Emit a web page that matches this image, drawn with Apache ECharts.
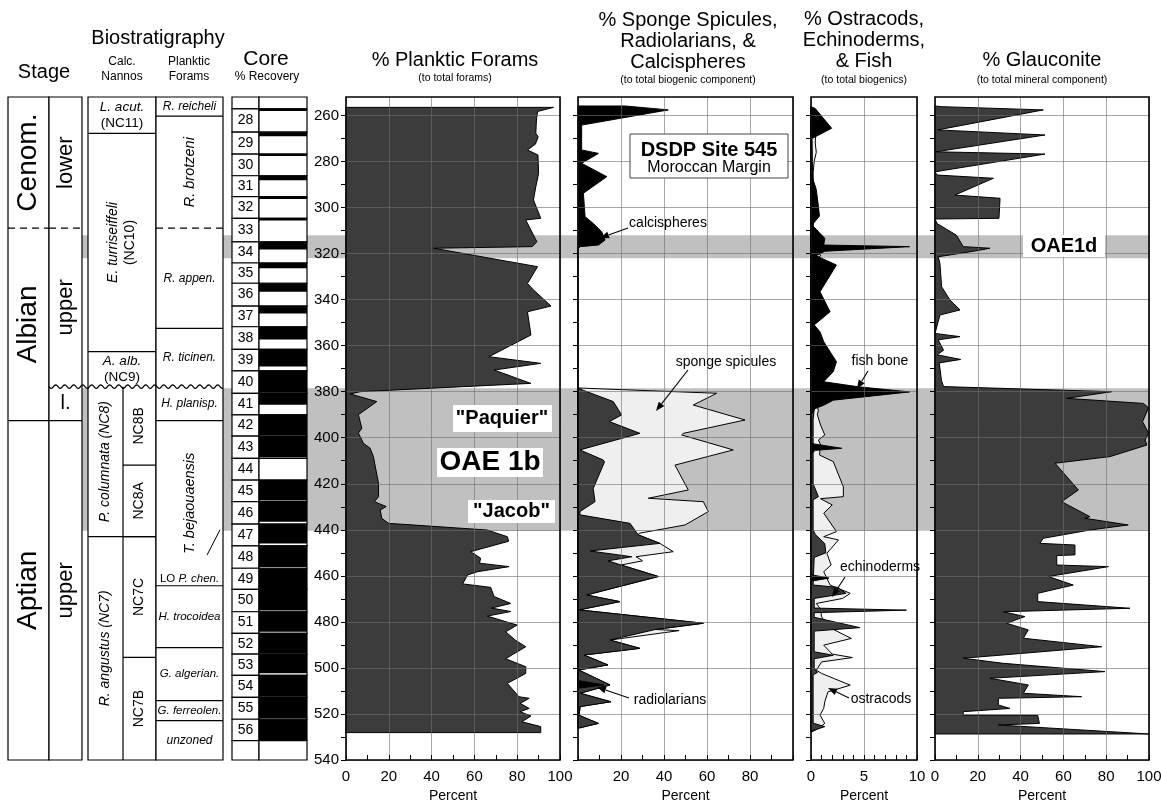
<!DOCTYPE html>
<html>
<head>
<meta charset="utf-8">
<title>DSDP Site 545</title>
<script src="https://cdn.jsdelivr.net/npm/echarts@6/dist/echarts.min.js"></script>
<style>
html, body { margin: 0; background: #fff; }
#chart { width: 1161px; height: 803px; }
</style>
</head>
<body>
<div id="chart"></div>
<script>
// ---------- data: depth in mbsf, values in percent ----------
var DEPTH_MIN = 252, DEPTH_MAX = 540;
var depthLabels = [260, 280, 300, 320, 340, 360, 380, 400, 420, 440, 460, 480, 500, 520, 540];
var depthTicks = [260, 270, 280, 290, 300, 310, 320, 330, 340, 350, 360, 370, 380, 390, 400,
    410, 420, 430, 440, 450, 460, 470, 480, 490, 500, 510, 520, 530, 540];

var oaeBands = [[312, 322], [378.5, 440.4]];

var stages = [
    {name: 'Cenom.', top: 252, bottom: 309},
    {name: 'Albian', top: 309, bottom: 392.6},
    {name: 'Aptian', top: 392.6, bottom: 540}
];
var substages = [
    {name: 'lower', top: 252, bottom: 309},
    {name: 'upper', top: 309, bottom: 377.8},
    {name: 'l.', top: 377.8, bottom: 392.6},
    {name: 'upper', top: 392.6, bottom: 540}
];
var nannoZones = [
    {name: 'L. acut.', code: '(NC11)', top: 252, bottom: 267.8},
    {name: 'E. turriseiffeli', code: '(NC10)', top: 267.8, bottom: 362.6},
    {name: 'A. alb.', code: '(NC9)', top: 362.6, bottom: 377.8},
    {name: 'P. columnata', code: '(NC8)', top: 377.8, bottom: 443},
    {name: 'R. angustus', code: '(NC7)', top: 443, bottom: 540}
];
var nannoSubZones = [
    {name: 'NC8B', top: 377.8, bottom: 411.9},
    {name: 'NC8A', top: 411.9, bottom: 443},
    {name: 'NC7C', top: 443, bottom: 495.4},
    {name: 'NC7B', top: 495.4, bottom: 540}
];
var foramZones = [
    {name: 'R. reicheli', top: 252, bottom: 260.3},
    {name: 'R. brotzeni', top: 260.3, bottom: 309},
    {name: 'R. appen.', top: 309, bottom: 352.5},
    {name: 'R. ticinen.', top: 352.5, bottom: 377.8},
    {name: 'H. planisp.', top: 377.8, bottom: 392.6},
    {name: 'T. bejaouaensis', top: 392.6, bottom: 464.3},
    {name: 'H. trocoidea', top: 464.3, bottom: 491.2},
    {name: 'G. algerian.', top: 491.2, bottom: 514.2},
    {name: 'G. ferreolen.', top: 514.2, bottom: 522.9},
    {name: 'unzoned', top: 522.9, bottom: 540}
];
var dashedBoundary = 309;     // Cenomanian / Albian
var unconformity = 377.8;     // wavy line
var loPChen = 440;            // LO P. chen.
var loLabelDepth = 461.5;

var coreNumbers = [28, 29, 30, 31, 32, 33, 34, 35, 36, 37, 38, 39, 40, 41, 42, 43, 44, 45, 46, 47,
    48, 49, 50, 51, 52, 53, 54, 55, 56];
var coreTops = [257.2, 267.3, 276.8, 286.2, 295.3, 304.7, 314.9, 324.1, 332.9, 342.8, 351.8, 361.6,
    371.0, 380.7, 390.1, 399.3, 409.0, 418.4, 427.8, 437.5, 447.0, 456.7, 465.9, 475.6, 485.0,
    494.0, 503.2, 512.8, 522.3, 531.6];
var coreRecovered = [0.9, 1.8, 0.8, 2.0, 1.0, 0.9, 3.3, 2.3, 3.7, 3.2, 5.5, 7.5, 9.5, 5.0, 8.8, 9.2,
    0, 8.9, 8.7, 8.5, 9.2, 9.0, 9.2, 8.7, 8.7, 8.3, 9.3, 9.2, 9.0];

// [depth, percent]
var plankticForams = [[256.5, 97], [258.3, 89.5], [262, 89], [267.8, 88.7], [269.3, 89.8], [272.5, 88.5],
    [275, 84.8], [277.2, 89.7], [285.2, 90], [291, 88.7], [296.7, 87.6], [304.7, 91], [305.4, 84],
    [314.9, 89.2], [317, 87], [317.7, 41], [325.7, 89.5], [333, 84.8], [335.8, 87.6], [342.8, 95.8],
    [345.3, 84.8], [355.4, 86.4], [364.8, 66.8], [367.7, 91], [370.6, 69.2], [376.4, 86.4], [380, 6.6],
    [381, 2], [384.3, 14.4], [390, 5.8], [395.9, 7.4], [398, 5.8], [401, 7.4], [402.4, 8.1], [404.6, 11.3],
    [408.2, 12.8], [419.8, 15.2], [425.6, 15.2], [427.8, 13.3], [429.9, 18.8], [431.4, 16], [435, 16.7],
    [437.2, 19.9], [440.1, 66], [443, 75.4], [445, 76], [449.5, 58.2], [452.3, 62.9], [454.5, 62.4],
    [456, 76.2], [458.2, 61.5], [459.6, 56.8], [463.5, 54.5], [465, 67.6], [469, 69.2], [472, 77],
    [474, 68], [475.5, 77], [477.5, 66], [481.4, 80], [484.3, 74.6], [488, 79.2], [490.8, 84], [496, 74.6],
    [499.5, 84], [502.4, 84], [506.7, 75.4], [512.5, 80.8], [513.2, 85.6], [515.4, 81.4], [517.6, 85.6],
    [519, 81.4], [520.9, 86.4], [523.4, 82.2], [525.5, 91], [528.1, 91]];

var calcispheres = [[255.9, 22], [257.6, 42], [264.2, 1.7], [275, 1.7], [276.5, 9.5], [280.8, 1.7],
    [286.6, 13.4], [293.8, 2.5], [304, 3.3], [306.9, 7.1], [310.5, 11], [314.1, 12.6], [316.3, 9.5],
    [317, 1], [318, 0], [505.5, 0], [507.4, 12], [508.8, 0]];
var radiolarians = [[378.4, 0], [379.5, 2.7], [384.3, 16.4], [390.1, 20.3], [393, 14.6], [398.1, 28.8],
    [405.3, 0.9], [409.7, 11.8], [410.6, 12.3], [422, 7.1], [427.8, 7.9], [432.1, 0.9], [433.5, 0.9],
    [437.2, 24.2], [442.2, 28], [445.9, 38.1], [449.2, 5.6], [451.7, 25], [453.5, 14], [455.3, 20],
    [460.3, 37.4], [468.3, 4], [471.2, 19.5], [474.8, 0.5], [480.6, 58.3], [483.3, 36], [487.9, 14.9],
    [491.5, 28.8], [494.4, 2.8], [498.7, 13.9], [500.9, 0.3], [507.4, 14.9], [511, 1], [514.7, 15.3],
    [516.8, 1], [520.6, 0.5], [524.1, 9.5], [526.2, 0]];
var spongeSpicules = [[378.4, 0], [380.7, 64.5], [385.8, 53.6], [392.3, 77.7], [398.1, 49], [398.8, 48.2],
    [405.3, 72.2], [411.9, 45.1], [422.7, 51.3], [426.3, 32.7], [427.8, 58.3], [432.1, 60.6], [437.9, 49.8],
    [441.5, 28.5], [442.2, 28], [445.9, 38.1], [449.5, 44.3], [451.7, 27], [453.5, 30], [455.3, 20],
    [460.3, 37.4], [468.3, 4], [469.3, 9], [471.2, 19.5], [474.8, 0.5], [480.6, 58.3], [483.3, 36],
    [483.8, 47], [487.9, 14.9], [491.5, 28.8], [494.4, 2.8], [498.7, 13.9], [500.9, 0.3], [507.4, 14.9],
    [511, 1], [514.7, 15.3], [516.8, 1], [520.6, 0.5], [524.1, 9.5], [526.2, 0]];

var fishBone = [[256.2, 0], [257, 0.4], [265.6, 1.95], [270, 0.1], [287.3, 0.15], [292.2, 0.5],
    [303.7, 0.8], [307.6, 0.1], [313.4, 1.3], [316.3, 1.2], [317, 9.3], [319, 1.3], [321, 0.5], [325, 2.4],
    [336.6, 0.85], [345.3, 1.8], [351, 0.3], [354, 0.85], [358.3, 1.2], [367, 2.4], [371.3, 2.1],
    [375.7, 1.2], [377.9, 4.5], [380.1, 9.3], [383.7, 2.1], [385.9, 1.2], [387.3, 0.4], [390, 0],
    [402.5, 0], [404.6, 2.9], [405.5, 0.4], [407, 0], [459.5, 0], [461, 1.7], [462.3, 0]];
var echinoderms = [[256.2, 0], [292, 0], [296, 0.6], [303, 0.7], [306, 0], [376, 0], [378, 1.5],
    [380.5, 1.8], [384, 0.8], [388, 0.3], [392, 0.2], [420, 0.2], [425.6, 0.7], [427, 0.2], [440, 0.2],
    [442, 0.4], [446, 1.3], [450, 1.4], [452, 0.3], [464, 0.2], [465, 2.5], [467.6, 3.3], [469.8, 0.3],
    [474, 0.3], [474.9, 9.0], [476, 0.3], [478, 0.3], [482.5, 4.6], [484, 0.3], [493, 0.3], [494.5, 2.1],
    [496, 0.3], [500, 0.3], [502, 0.6], [503, 0.2], [524, 0.2], [525.5, 1.3], [527.5, 0]];
var ostracods = [[256.2, 0], [266, 0.2], [268, 0.45], [272, 0.4], [276, 0.5], [280, 0.3], [285, 0.2],
    [300, 0.3], [310, 0.2], [318, 0.6], [321, 0.9], [323, 0.3], [330, 0.2], [360, 0.2], [376, 0.3],
    [386, 0.5], [388, 0.7], [390, 0.6], [394.5, 0.9], [398.8, 1.3], [401, 0.7], [403, 0.9], [407.5, 0.8],
    [410.4, 2.1], [421.3, 3.05], [425.6, 3.05], [426.5, 0.9], [429.2, 2.0], [432.8, 1.2], [440.8, 2.4],
    [443, 1.2], [444.4, 2.6], [450.2, 1.5], [455.3, 1.9], [458.2, 1.2], [464, 1.8], [467.6, 3.7],
    [469.8, 3.0], [472, 0.5], [474.5, 0.9], [477.8, 1.0], [482.1, 1.6], [487.2, 3.8], [490.1, 1.2],
    [494, 2.0], [495.5, 3.9], [497.4, 1.0], [501, 0.5], [502.4, 1.0], [507.5, 3.7], [510.4, 1.6],
    [514.7, 1.3], [517.6, 1.2], [520.5, 0.85], [524.1, 1.3], [526.3, 0.7], [528, 0]];

var glauconite = [[255.9, 0], [256.2, 3], [257.6, 50.6], [266.3, 1.3], [268.5, 51.4], [275.8, 0.5],
    [276.8, 51.4], [284.5, 0], [285.9, 1], [287.3, 27.3], [294.6, 9.3], [296, 30.4], [304.7, 29.9],
    [305, 0], [307, 1], [312, 10], [317, 13.2], [317.7, 25.7], [319, 18], [321.4, 1.5], [324.3, 2.3],
    [334.4, 3.1], [340.2, 7], [344.5, 11.7], [346.7, 2.3], [354.7, 0], [356.1, 11.7], [357.5, 1.5],
    [362, 4], [364, 1], [366, 12], [367.5, 2], [375, 3], [377.8, 4], [380, 82.6], [382.9, 61.5],
    [385.1, 97.4], [387, 99.8], [393, 97], [398, 99.8], [401, 98.2], [403.2, 99], [408.2, 81.8],
    [411.1, 56.1], [422.7, 67], [427.8, 59.2], [434.3, 72.4], [435, 70], [437.9, 90.3], [440.1, 72.4],
    [443.7, 50.6], [445.9, 49], [446.6, 65.4], [450.9, 65.4], [451.2, 56.9], [455.3, 56.9], [456, 81],
    [460.3, 53], [464, 64.6], [467.6, 48], [471.2, 48], [474.1, 91.1], [475.6, 31.9], [477.7, 42],
    [480.6, 33.5], [483.5, 43.6], [487.1, 41.3], [490.8, 77.9], [495.8, 13.2], [498, 31.9], [501.6, 79.4],
    [504.5, 25.7], [507.4, 43.6], [511, 41.3], [512.5, 68.5], [513.2, 29.6], [516.1, 29.6], [517.6, 35],
    [519, 13.2], [520.5, 13.2], [520.6, 48], [524.1, 48.8], [524.8, 29.6], [528.7, 100]];

// ---------- layout & styles ----------
var FONT = '"Liberation Sans", Arial, Helvetica, sans-serif';
var TOP = 97, HEIGHT = 663;
var DARK = '#3c3c3c', LIGHT = '#efefef', BAND = '#c0c0c0';
var GRIDC = 'rgba(110,110,110,0.6)';
// column x-extents, in units of the column grid (0..299 px from its left edge)
var COL = {stage: [0, 41], sub: [41, 74], nanno: [80, 148], nannoSplit: 115, forams: [148, 215],
    coreNum: [224, 251], coreRec: [251, 299]};
var VERTICAL = ['Cenom.', 'Albian', 'Aptian', 'lower', 'upper', 'E. turriseiffeli', 'P. columnata',
    'R. angustus', 'NC8B', 'NC8A', 'NC7C', 'NC7B', 'R. brotzeni', 'T. bejaouaensis'];
var PANELS = [
    {left: 346, width: 214, max: 100, interval: 20, minor: 2, showDepth: true},
    {left: 578, width: 215, max: 100, interval: 20, minor: 2, hideEnds: true},
    {left: 811, width: 106, max: 10, interval: 5, minor: 5},
    {left: 935, width: 214, max: 100, interval: 20, minor: 2}
];

function textEl(x, y, text, size, o) {
    o = o || {};
    var style = {
        text: text, fill: '#000', fontSize: size, fontFamily: FONT,
        fontStyle: o.italic ? 'italic' : 'normal', fontWeight: o.bold ? 'bold' : 'normal',
        align: o.align || 'center', verticalAlign: 'middle',
        textAlign: o.align || 'center', textVerticalAlign: 'middle'
    };
    if (o.rich) { style.rich = o.rich; style.lineHeight = o.lh || Math.round(size * 1.2); }
    var el = {type: 'text', x: x, y: y, rotation: o.vertical ? Math.PI / 2 : 0, style: style};
    if (o.z != null) el.z = o.z;
    return el;
}
function richStyles(size) {
    return {
        i: {fontStyle: 'italic', fontSize: size, fontFamily: FONT, fill: '#000', lineHeight: size * 1.2},
        n: {fontSize: size, fontFamily: FONT, fill: '#000', lineHeight: size * 1.2}
    };
}

// ---------- columns (stage, biostratigraphy, core) ----------
function renderColumns(params, api) {
    var kids = [];
    var P = function (u, d) { return api.coord([u, d]); };
    function rect(c0, c1, d0, d1, fill) {
        var a = P(c0, d0), b = P(c1, d1);
        kids.push({type: 'rect', shape: {x: a[0], y: a[1], width: b[0] - a[0], height: b[1] - a[1]},
            style: {fill: fill, stroke: '#000', lineWidth: 1.2}});
    }
    function hline(c0, c1, d, dashed) {
        var a = P(c0, d), b = P(c1, d);
        kids.push({type: 'line', shape: {x1: a[0], y1: a[1], x2: b[0], y2: b[1]},
            style: {stroke: '#000', lineWidth: 1.2, lineDash: dashed ? [7, 5] : null}});
    }
    function bounds(zones, col) {
        zones.slice(0, -1).forEach(function (z) {
            if (z.bottom === unconformity) return;
            hline(col[0], col[1], z.bottom, z.bottom === dashedBoundary);
        });
    }
    function label(col, z, text, size, o) {
        var a = P(col[0], z.top), b = P(col[1], z.bottom);
        o = o || {};
        o.vertical = VERTICAL.indexOf(z.name) >= 0;
        kids.push(textEl((a[0] + b[0]) / 2, (a[1] + b[1]) / 2, text, size, o));
    }

    // frames
    [COL.stage, COL.sub, COL.nanno, COL.forams].forEach(function (c) {
        rect(c[0], c[1], DEPTH_MIN, DEPTH_MAX, '#fff');
    });

    // stage & substage
    bounds(stages, COL.stage);
    bounds(substages, COL.sub);
    stages.forEach(function (z) { label(COL.stage, z, z.name, 28); });
    substages.forEach(function (z) { label(COL.sub, z, z.name, z.name === 'l.' ? 20 : 22); });

    // calcareous nannofossils
    bounds(nannoZones, COL.nanno);
    var splitTop = nannoSubZones[0].top;
    var s0 = P(COL.nannoSplit, splitTop), s1 = P(COL.nannoSplit, DEPTH_MAX);
    kids.push({type: 'line', shape: {x1: s0[0], y1: s0[1], x2: s1[0], y2: s1[1]},
        style: {stroke: '#000', lineWidth: 1.2}});
    bounds(nannoSubZones, [COL.nannoSplit, COL.nanno[1]]);
    nannoZones.forEach(function (z) {
        var hasSub = nannoSubZones.some(function (s) { return s.top >= z.top && s.bottom <= z.bottom; });
        var col = hasSub ? [COL.nanno[0], COL.nannoSplit] : COL.nanno;
        var vertical = VERTICAL.indexOf(z.name) >= 0;
        var size = vertical ? 14 : 13.5;
        var txt = '{i|' + z.name + '}' + (hasSub ? '{i| ' + z.code + '}' : '\n{n|' + z.code + '}');
        label(col, z, txt, size, {rich: richStyles(size), lh: size * 1.2});
    });
    nannoSubZones.forEach(function (z) { label([COL.nannoSplit, COL.nanno[1]], z, z.name, 14); });

    // planktic foraminifera
    bounds(foramZones, COL.forams);
    foramZones.forEach(function (z) {
        var vertical = VERTICAL.indexOf(z.name) >= 0;
        label(COL.forams, z, z.name, vertical ? 14.5 : (z.name.length > 11 ? 11.5 : 12), {italic: true});
    });
    var lo = P((COL.forams[0] + COL.forams[1]) / 2, loLabelDepth);
    kids.push(textEl(lo[0], lo[1], 'LO {i|P. chen.}', 11.5, {rich: richStyles(11.5)}));
    var l0 = P(COL.forams[1] - 16, loLabelDepth - 10.5), l1 = P(COL.forams[1] - 3, loPChen);
    kids.push({type: 'line', shape: {x1: l0[0], y1: l0[1], x2: l1[0], y2: l1[1]},
        style: {stroke: '#000', lineWidth: 1}});

    // wavy unconformity
    var w0 = P(COL.sub[0], unconformity), w1 = P(COL.forams[1], unconformity);
    var pts = [];
    for (var x = w0[0]; x <= w1[0]; x += 1) {
        pts.push([x, w0[1] + 1.8 * Math.sin((x - w0[0]) * 2 * Math.PI / 9)]);
    }
    kids.push({type: 'polyline', shape: {points: pts}, style: {stroke: '#000', lineWidth: 1.2, fill: null}});

    // core column
    rect(COL.coreNum[0], COL.coreNum[1], DEPTH_MIN, coreTops[0], '#fff');
    rect(COL.coreRec[0], COL.coreRec[1], DEPTH_MIN, coreTops[0], '#fff');
    coreNumbers.forEach(function (n, i) {
        var top = coreTops[i], bot = coreTops[i + 1];
        rect(COL.coreNum[0], COL.coreNum[1], top, bot, '#fff');
        rect(COL.coreRec[0], COL.coreRec[1], top, bot, '#fff');
        if (coreRecovered[i] > 0) {
            var a = P(COL.coreRec[0], top), b = P(COL.coreRec[1], Math.min(top + coreRecovered[i], bot));
            kids.push({type: 'rect', shape: {x: a[0], y: a[1], width: b[0] - a[0], height: Math.max(b[1] - a[1], 2)},
                style: {fill: '#000'}});
        }
        var c = P((COL.coreNum[0] + COL.coreNum[1]) / 2, (top + bot) / 2);
        kids.push(textEl(c[0], c[1], String(n), 14));
    });
    var last = coreTops[coreTops.length - 1];
    rect(COL.coreNum[0], COL.coreNum[1], last, DEPTH_MAX, '#fff');
    rect(COL.coreRec[0], COL.coreRec[1], last, DEPTH_MAX, '#fff');

    return {type: 'group', children: kids};
}

function renderBands(params, api) {
    return {type: 'group', children: oaeBands.map(function (b) {
        var a = api.coord([0, b[0]]), c = api.coord([1, b[1]]);
        return {type: 'rect', shape: {x: a[0], y: a[1], width: c[0] - a[0], height: c[1] - a[1]},
            style: {fill: BAND}};
    })};
}

function profile(panel, pts, fill, z) {
    return {
        type: 'custom', coordinateSystem: 'cartesian2d', silent: true,
        xAxisIndex: panel + 2, yAxisIndex: panel + 2, z: z, data: [0],
        renderItem: function (params, api) {
            var poly = [api.coord([0, pts[0][0]])];
            pts.forEach(function (p) { poly.push(api.coord([p[1], p[0]])); });
            poly.push(api.coord([0, pts[pts.length - 1][0]]));
            return {type: 'polygon', shape: {points: poly},
                style: {fill: fill, stroke: '#000', lineWidth: 1, lineJoin: 'round'}};
        }
    };
}

// ---------- axes ----------
var grids = [
    {left: 8, width: 299, top: TOP, height: HEIGHT, show: false, outerBoundsMode: 'none'},
    {left: 82, width: 1068, top: TOP, height: HEIGHT, show: false, outerBoundsMode: 'none'}
];
var xAxes = [
    {type: 'value', gridIndex: 0, min: 0, max: 299, show: false},
    {type: 'value', gridIndex: 1, min: 0, max: 1, show: false}
];
var yAxes = [
    {type: 'value', gridIndex: 0, inverse: true, min: DEPTH_MIN, max: DEPTH_MAX, show: false},
    {type: 'value', gridIndex: 1, inverse: true, min: DEPTH_MIN, max: DEPTH_MAX, show: false}
];
var gridAxes = [];
PANELS.forEach(function (p, i) {
    var g = i + 2;
    grids.push({left: p.left, width: p.width, top: TOP, height: HEIGHT, show: true, z: 10,
        backgroundColor: 'transparent', borderColor: '#000', borderWidth: 1.6, outerBoundsMode: 'none'});
    xAxes.push({
        type: 'value', gridIndex: g, min: 0, max: p.max, interval: p.interval, position: 'bottom', z: 5,
        name: 'Percent', nameLocation: 'middle', nameGap: 28,
        nameTextStyle: {fontSize: 14, color: '#000', fontFamily: FONT},
        axisLine: {show: false, onZero: false},
        axisTick: {show: true, inside: true, length: 5, lineStyle: {color: '#000'}},
        minorTick: {show: true, splitNumber: p.minor, length: 5, lineStyle: {color: '#000'}},
        axisLabel: {fontSize: 15, color: '#000', fontFamily: FONT, margin: 9,
            formatter: function (v) { return p.hideEnds && (v === 0 || v === 100) ? '' : String(v); }},
        splitLine: {show: true, lineStyle: {color: GRIDC, width: 1}}
    });
    yAxes.push({
        type: 'value', gridIndex: g, inverse: true, min: DEPTH_MIN, max: DEPTH_MAX, position: 'left', z: 5,
        axisLine: {show: false, onZero: false},
        axisTick: {show: true, length: 5, customValues: depthTicks, lineStyle: {color: '#000', width: 1}},
        axisLabel: {show: !!p.showDepth, customValues: depthLabels, fontSize: 15, color: '#000',
            fontFamily: FONT, margin: 7},
        splitLine: {show: false}
    });
    gridAxes.push({
        type: 'value', gridIndex: g, inverse: true, min: DEPTH_MIN, max: DEPTH_MAX, position: 'left', z: 5,
        axisLine: {show: false, onZero: false},
        axisTick: {show: false, customValues: depthLabels},
        axisLabel: {show: false},
        splitLine: {show: true, lineStyle: {color: GRIDC, width: 1}}
    });
});
yAxes = yAxes.concat(gridAxes);

// ---------- titles & annotations ----------
function arrow(x1, y1, x2, y2) {
    var a = Math.atan2(y2 - y1, x2 - x1), L = 9, W = 3.5;
    var bx = x2 - L * Math.cos(a), by = y2 - L * Math.sin(a);
    return [
        {type: 'line', z: 100, shape: {x1: x1, y1: y1, x2: bx, y2: by}, style: {stroke: '#000', lineWidth: 1.1}},
        {type: 'polygon', z: 100, shape: {points: [[x2, y2], [bx + W * Math.sin(a), by - W * Math.cos(a)],
            [bx - W * Math.sin(a), by + W * Math.cos(a)]]}, style: {fill: '#000'}}
    ];
}
function box(x, y, w, h, stroke) {
    return {type: 'rect', z: 99, shape: {x: x, y: y, width: w, height: h},
        style: {fill: '#fff', stroke: stroke || null, lineWidth: 1}};
}
var T = function (x, y, s, size, o) { o = o || {}; o.z = 100; return textEl(x, y, s, size, o); };
var graphics = [
    T(44, 72, 'Stage', 20), T(158, 38, 'Biostratigraphy', 20),
    T(122, 62, 'Calc.', 12), T(122, 77, 'Nannos', 12),
    T(189, 62, 'Planktic', 12), T(189, 77, 'Forams', 12),
    T(266, 59, 'Core', 21), T(267, 77, '% Recovery', 12),
    T(455, 60, '% Planktic Forams', 20), T(455, 78, '(to total forams)', 10.5),
    T(688, 20, '% Sponge Spicules,', 20), T(688, 41, 'Radiolarians, &', 20), T(688, 62, 'Calcispheres', 20),
    T(688, 80, '(to total biogenic component)', 10.5),
    T(864, 19, '% Ostracods,', 20), T(864, 40, 'Echinoderms,', 20), T(864, 61, '& Fish', 20),
    T(864, 80, '(to total biogenics)', 10.5),
    T(1042, 60, '% Glauconite', 20), T(1042, 80, '(to total mineral component)', 10.5),

    box(630, 134, 158, 44, '#444'),
    T(709, 150, 'DSDP Site 545', 20, {bold: true}), T(709, 168, 'Moroccan Margin', 16),
    box(453, 405, 99, 27), T(502, 418.5, '"Paquier"', 20, {bold: true}),
    box(437, 448, 106, 29), T(490, 462.5, 'OAE 1b', 28, {bold: true}),
    box(468, 500, 87, 23), T(511.5, 511.5, '"Jacob"', 20, {bold: true}),
    box(1023, 235, 82, 22), T(1064, 246, 'OAE1d', 20, {bold: true}),

    T(668, 223, 'calcispheres', 14), T(726, 362, 'sponge spicules', 14),
    T(670, 700, 'radiolarians', 14), T(880, 361, 'fish bone', 14),
    T(880, 567, 'echinoderms', 14), T(881, 699, 'ostracods', 14)
].concat(
    arrow(628, 228, 600, 238), arrow(688, 370, 656, 411), arrow(629, 698, 597, 687),
    arrow(868, 371, 857, 389), arrow(845, 577, 832, 597), arrow(849, 698, 828, 688)
);

var option = {
    animation: false,
    backgroundColor: '#fff',
    textStyle: {fontFamily: FONT},
    grid: grids,
    xAxis: xAxes,
    yAxis: yAxes,
    series: [
        {type: 'custom', coordinateSystem: 'cartesian2d', xAxisIndex: 1, yAxisIndex: 1, z: 1,
            silent: true, data: [0], renderItem: renderBands},
        {type: 'custom', coordinateSystem: 'cartesian2d', xAxisIndex: 0, yAxisIndex: 0, z: 3,
            silent: true, data: [0], renderItem: renderColumns},
        profile(0, plankticForams, DARK, 2),
        profile(1, spongeSpicules, LIGHT, 2),
        profile(1, radiolarians, DARK, 3),
        profile(1, calcispheres, '#000', 4),
        profile(2, ostracods, LIGHT, 2),
        profile(2, echinoderms, DARK, 3),
        profile(2, fishBone, '#000', 4),
        profile(3, glauconite, DARK, 2)
    ],
    graphic: {elements: graphics}
};

var chart = echarts.init(document.getElementById('chart'), null, {renderer: 'canvas'});
chart.setOption(option);
window.onresize = function () { chart.resize(); };
</script>
</body>
</html>
